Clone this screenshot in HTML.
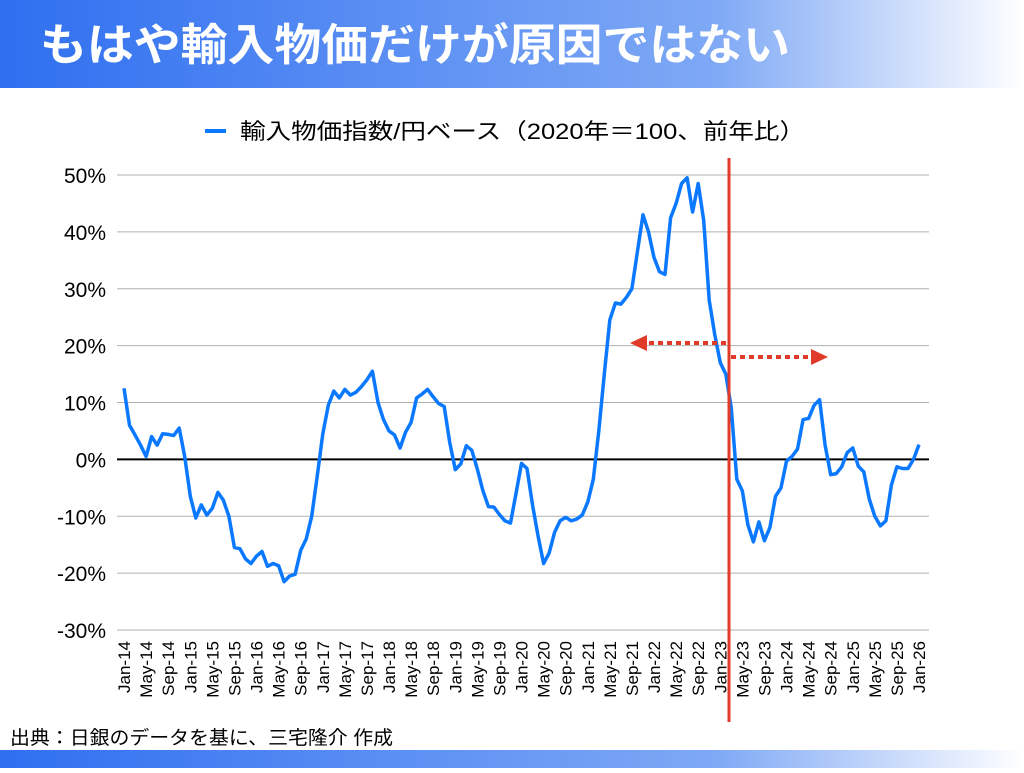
<!DOCTYPE html>
<html><head><meta charset="utf-8"><style>
body{margin:0;width:1024px;height:768px;overflow:hidden;background:#fff;font-family:"Liberation Sans","Noto Sans CJK JP",sans-serif}
</style></head><body>
<svg width="1024" height="768" xmlns="http://www.w3.org/2000/svg" style="font-family:'Liberation Sans','Noto Sans CJK JP',sans-serif">
<defs>
<linearGradient id="tg" x1="0" x2="1" y1="0" y2="0"><stop offset="0" stop-color="#2f6ff0"/><stop offset="0.7" stop-color="#7fa9f5"/><stop offset="1" stop-color="#ffffff"/></linearGradient>
</defs>
<rect x="0" y="0" width="1024" height="88" fill="url(#tg)"/>
<text x="40" y="60" font-size="44" font-weight="bold" fill="#fff" textLength="750" lengthAdjust="spacingAndGlyphs">もはや輸入物価だけが原因ではない</text>
<rect x="0" y="750" width="1024" height="18" fill="url(#tg)"/>
<text x="10" y="744" font-size="19" fill="#000" textLength="383" lengthAdjust="spacingAndGlyphs">出典：日銀のデータを基に、三宅隆介 作成</text>
<g>
<line x1="205" y1="131" x2="226" y2="131" stroke="#0a78ff" stroke-width="4"/>
<text x="240" y="139" font-size="22" fill="#000" textLength="565" lengthAdjust="spacingAndGlyphs">輸入物価指数/円ベース（2020年＝100、前年比）</text>
</g>
<g id="grid"></g><g id="ylab"></g><g id="xlab"></g><g id="series"></g>
<line x1="729" y1="158" x2="729" y2="722" stroke="#e03a2a" stroke-width="3"/>
<g>
<line x1="726" y1="343" x2="645" y2="343" stroke="#e03a2a" stroke-width="4" stroke-dasharray="5,4"/>
<polygon points="630,343 647,335 647,351" fill="#e03a2a"/>
</g>
<g>
<line x1="731" y1="357" x2="812" y2="357" stroke="#e03a2a" stroke-width="4" stroke-dasharray="5,4"/>
<polygon points="828,357 811,349 811,365" fill="#e03a2a"/>
</g>
</svg>
<script>
const yTicks=[50,40,30,20,10,0,-10,-20,-30];
const xLabels=["Jan-14","May-14","Sep-14","Jan-15","May-15","Sep-15","Jan-16","May-16","Sep-16","Jan-17","May-17","Sep-17","Jan-18","May-18","Sep-18","Jan-19","May-19","Sep-19","Jan-20","May-20","Sep-20","Jan-21","May-21","Sep-21","Jan-22","May-22","Sep-22","Jan-23","May-23","Sep-23","Jan-24","May-24","Sep-24","Jan-25","May-25","Sep-25","Jan-26"];
const v2014=[12.5,6,4.3,2.5,0.5,4,2.5,4.5,4.4,4.2,5.5,0.5];
const v2015=[-6.5,-10.3,-8,-9.8,-8.6,-5.8,-7.2,-10,-15.5,-15.7,-17.5,-18.3];
const v2016=[-17,-16.2,-18.8,-18.3,-18.7,-21.5,-20.5,-20.2,-16,-14,-10,-3];
const v2017=[4.5,9.5,12,10.8,12.3,11.3,11.8,12.8,14,15.5,10,7];
const v2018=[5,4.3,2,4.8,6.5,10.8,11.5,12.3,11,9.8,9.3,3];
const v2019=[-1.8,-0.8,2.4,1.6,-1.7,-5.5,-8.3,-8.4,-9.7,-10.8,-11.2,-6];
const v2020=[-0.7,-1.6,-8,-13.5,-18.3,-16.5,-12.8,-10.8,-10.2,-10.8,-10.5,-9.8];
const v2021=[-7.5,-3.5,5,15,24.5,27.5,27.3,28.5,30,36.5,43,40];
const v2022=[35.5,33,32.5,42.5,45,48.5,49.5,43.5,48.5,42,28,22];
const v2023=[17,15,9,-3.5,-5.5,-11.5,-14.5,-11,-14.3,-12,-6.5,-5];
const v2024=[-0.3,0.5,1.8,7,7.2,9.5,10.5,2.5,-2.7,-2.5,-1.3,1.2];
const v2025=[2,-1.2,-2.2,-7,-10,-11.7,-10.8,-4.5,-1.3,-1.6,-1.6,0];
const v2026=[2.6];
const values=[].concat(v2014,v2015,v2016,v2017,v2018,v2019,v2020,v2021,v2022,v2023,v2024,v2025,v2026);
const NS="http://www.w3.org/2000/svg";
const X0=124,X1=919,Y50=175,Ym30=630;
function xs(i){return X0+(X1-X0)*i/(values.length-1);}
function ys(v){return Y50+(50-v)*(Ym30-Y50)/80;}
const grid=document.getElementById('grid'),ylab=document.getElementById('ylab'),xlab=document.getElementById('xlab'),ser=document.getElementById('series');
yTicks.forEach(t=>{
 const l=document.createElementNS(NS,'line');
 l.setAttribute('x1',117);l.setAttribute('x2',929);l.setAttribute('y1',ys(t));l.setAttribute('y2',ys(t));
 l.setAttribute('stroke',t===0?'#000':'#b0b0b0');l.setAttribute('stroke-width',t===0?2:1);
 
 
 grid.appendChild(l);
 const tx=document.createElementNS(NS,'text');
 tx.setAttribute('x',106);tx.setAttribute('y',ys(t)+8);tx.setAttribute('text-anchor','end');tx.setAttribute('font-size','21');
 tx.textContent=t+'%';
 
 
 ylab.appendChild(tx);
});
xLabels.forEach((s,k)=>{
 const x=xs(k*4);
 const tx=document.createElementNS(NS,'text');
 tx.setAttribute('transform','translate('+(x+6)+',641) rotate(-90)');
 tx.setAttribute('text-anchor','end');tx.setAttribute('font-size','17');
 tx.textContent=s;
 
 
 xlab.appendChild(tx);
});
const p=document.createElementNS(NS,'polyline');
p.setAttribute('points',values.map((v,i)=>xs(i).toFixed(1)+','+ys(v).toFixed(1)).join(' '));
p.setAttribute('fill','none');p.setAttribute('stroke','#0a78ff');p.setAttribute('stroke-width','3.5');p.setAttribute('stroke-linejoin','round');


ser.appendChild(p);
</script>
</body></html>
